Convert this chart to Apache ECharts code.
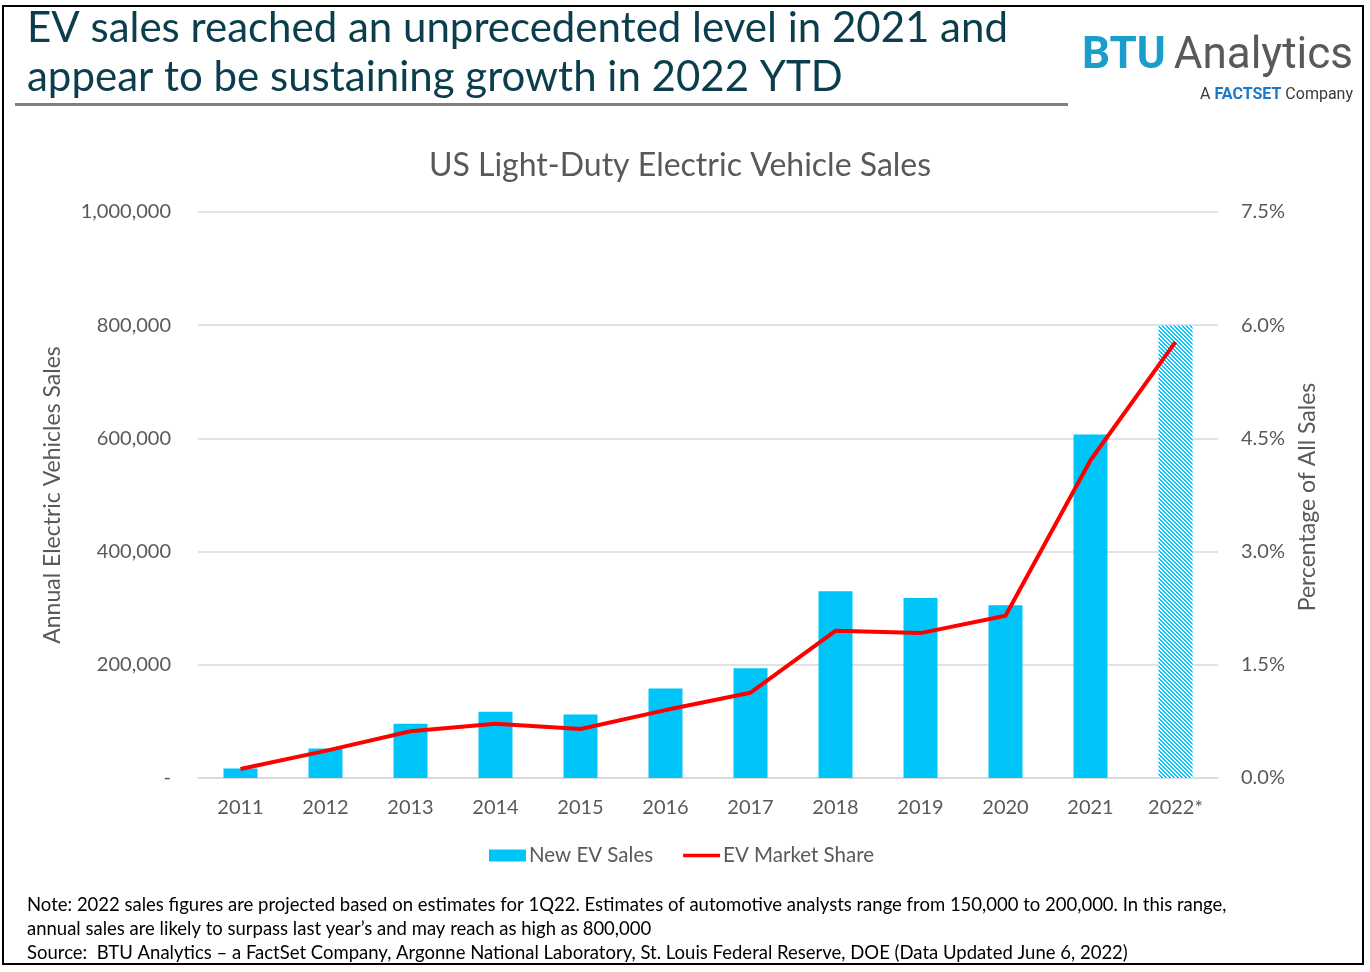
<!DOCTYPE html>
<html>
<head>
<meta charset="utf-8">
<script src="https://cdn.jsdelivr.net/npm/echarts@6/dist/echarts.min.js"></script>
<style>
html,body{margin:0;padding:0;background:#fff;}
#chart{width:1370px;height:972px;}
</style>
</head>
<body>
<div id="chart"></div>
<script>
const categories = ['2011','2012','2013','2014','2015','2016','2017','2018','2019','2020','2021','2022*'];
const evSales = [17000, 52000, 96000, 117000, 112000, 158000, 194000, 330000, 318000, 305000, 607000, 800000];
const marketShare = [0.12, 0.36, 0.62, 0.72, 0.65, 0.90, 1.13, 1.95, 1.92, 2.15, 4.21, 5.78];
const leftTicks = ['-', '200,000', '400,000', '600,000', '800,000', '1,000,000'];
const rightTicks = ['0.0%', '1.5%', '3.0%', '4.5%', '6.0%', '7.5%'];
const projectedIndex = 11;

const BLUE = '#00C5F8';
const FONT = 'Lato, "Open Sans", sans-serif';

// hatch pattern for projected bar
const pc = document.createElement('canvas');
pc.width = 4; pc.height = 4;
const pctx = pc.getContext('2d');
pctx.fillStyle = '#ffffff';
pctx.fillRect(0,0,4,4);
pctx.fillStyle = BLUE;
for (let y = 0; y < 4; y++) {
  for (let x = 0; x < 4; x++) {
    const d = ((x - y) % 4 + 4) % 4;
    if (d === 0 || d === 1) pctx.fillRect(x, y, 1, 1);
  }
}

const barData = evSales.map((v, i) => i === projectedIndex
  ? { value: v, itemStyle: { color: { image: pc, repeat: 'repeat' } } }
  : v);

const chart = echarts.init(document.getElementById('chart'), null, { renderer: 'canvas' });

const option = {
  backgroundColor: '#ffffff',
  animation: false,
  grid: { left: 198, right: 152, top: 212, bottom: 194, containLabel: false },
  legend: {
    data: [
      { name: 'New EV Sales', icon: 'rect' },
      { name: 'EV Market Share', icon: 'path://M0,0 L38,0 L38,3.5 L0,3.5 Z' }
    ],
    left: 484, top: 840,
    itemWidth: 37, itemHeight: 12, itemGap: 30,
    symbolKeepAspect: true,
    textStyle: { fontFamily: FONT, fontSize: 20.5, color: '#595959', padding: [0,0,0,-2] }
  },
  xAxis: {
    type: 'category',
    data: categories,
    axisLine: { show: true, lineStyle: { color: '#D9D9D9', width: 1.5 } },
    axisTick: { show: false },
    axisLabel: { fontFamily: FONT, fontSize: 20, color: '#595959', margin: 20 }
  },
  yAxis: [
    {
      type: 'value', min: 0, max: 1000000, interval: 200000,
      axisLine: { show: false }, axisTick: { show: false },
      splitLine: { lineStyle: { color: '#D9D9D9', width: 1.5 } },
      axisLabel: {
        fontFamily: FONT, fontSize: 20, color: '#595959', margin: 27,
        formatter: (v) => leftTicks[Math.round(v / 200000)]
      }
    },
    {
      type: 'value', min: 0, max: 7.5, interval: 1.5, position: 'right',
      axisLine: { show: false }, axisTick: { show: false },
      splitLine: { show: false },
      axisLabel: {
        fontFamily: FONT, fontSize: 20, color: '#595959', margin: 23,
        formatter: (v) => rightTicks[Math.round(v / 1.5)]
      }
    }
  ],
  series: [
    {
      name: 'New EV Sales', type: 'bar', data: barData,
      barWidth: 34, itemStyle: { color: BLUE }, yAxisIndex: 0
    },
    {
      name: 'EV Market Share', type: 'line', data: marketShare, yAxisIndex: 1,
      symbol: 'none', lineStyle: { color: '#FF0000', width: 4 }, itemStyle: { color: '#FF0000' }
    }
  ],
  graphic: [
    { type: 'rect', shape: { x: 3, y: 6, width: 1360, height: 958 }, style: { fill: 'none', stroke: '#000', lineWidth: 2 }, silent: true },
    { type: 'text', left: 27, top: 4, style: { text: 'EV sales reached an unprecedented level in 2021 and\nappear to be sustaining growth in 2022 YTD', font: '42px ' + FONT, fill: '#0B3E4D', lineHeight: 49 } },
    { type: 'rect', shape: { x: 15, y: 103, width: 1053, height: 3 }, style: { fill: '#7F7F7F' } },
    { type: 'text', x: 1353, y: 57, style: {
        text: '{b|BTU}{a|Analytics}', textAlign: 'right', textVerticalAlign: 'middle',
        rich: {
          b: { font: 'bold 44px Roboto, "Liberation Sans", sans-serif', fill: '#1A9DCB', padding: [0, 8, 0, 0] },
          a: { font: '44px Roboto, "Liberation Sans", sans-serif', fill: '#58595B' }
        }
      } },
    { type: 'text', x: 1353, y: 95, style: {
        text: '{a|A }{f|FACTSET}{a| Company}', textAlign: 'right', textVerticalAlign: 'middle',
        rich: {
          a: { font: '16px Roboto, "Liberation Sans", sans-serif', fill: '#3A3A3A' },
          f: { font: 'bold 16px Roboto, "Liberation Sans", sans-serif', fill: '#1A78C8' }
        }
      } },
    { type: 'text', x: 680, y: 166, style: { text: 'US Light-Duty Electric Vehicle Sales', font: '32px ' + FONT, fill: '#595959', textAlign: 'center', textVerticalAlign: 'middle' } },
    { type: 'text', x: 53, y: 495, rotation: Math.PI / 2, style: { text: 'Annual Electric Vehicles Sales', font: '23px ' + FONT, fill: '#595959', textAlign: 'center', textVerticalAlign: 'middle' } },
    { type: 'text', x: 1308, y: 497, rotation: Math.PI / 2, style: { text: 'Percentage of All Sales', font: '23px ' + FONT, fill: '#595959', textAlign: 'center', textVerticalAlign: 'middle' } },
    { type: 'text', left: 27, top: 893, style: { text: 'Note: 2022 sales figures are projected based on estimates for 1Q22. Estimates of automotive analysts range from 150,000 to 200,000. In this range,\nannual sales are likely to surpass last year’s and may reach as high as 800,000\nSource:  BTU Analytics – a FactSet Company, Argonne National Laboratory, St. Louis Federal Reserve, DOE (Data Updated June 6, 2022)', font: '18.5px ' + FONT, fill: '#000000', lineHeight: 24 } }
  ]
};
chart.setOption(option);
</script>
</body>
</html>
